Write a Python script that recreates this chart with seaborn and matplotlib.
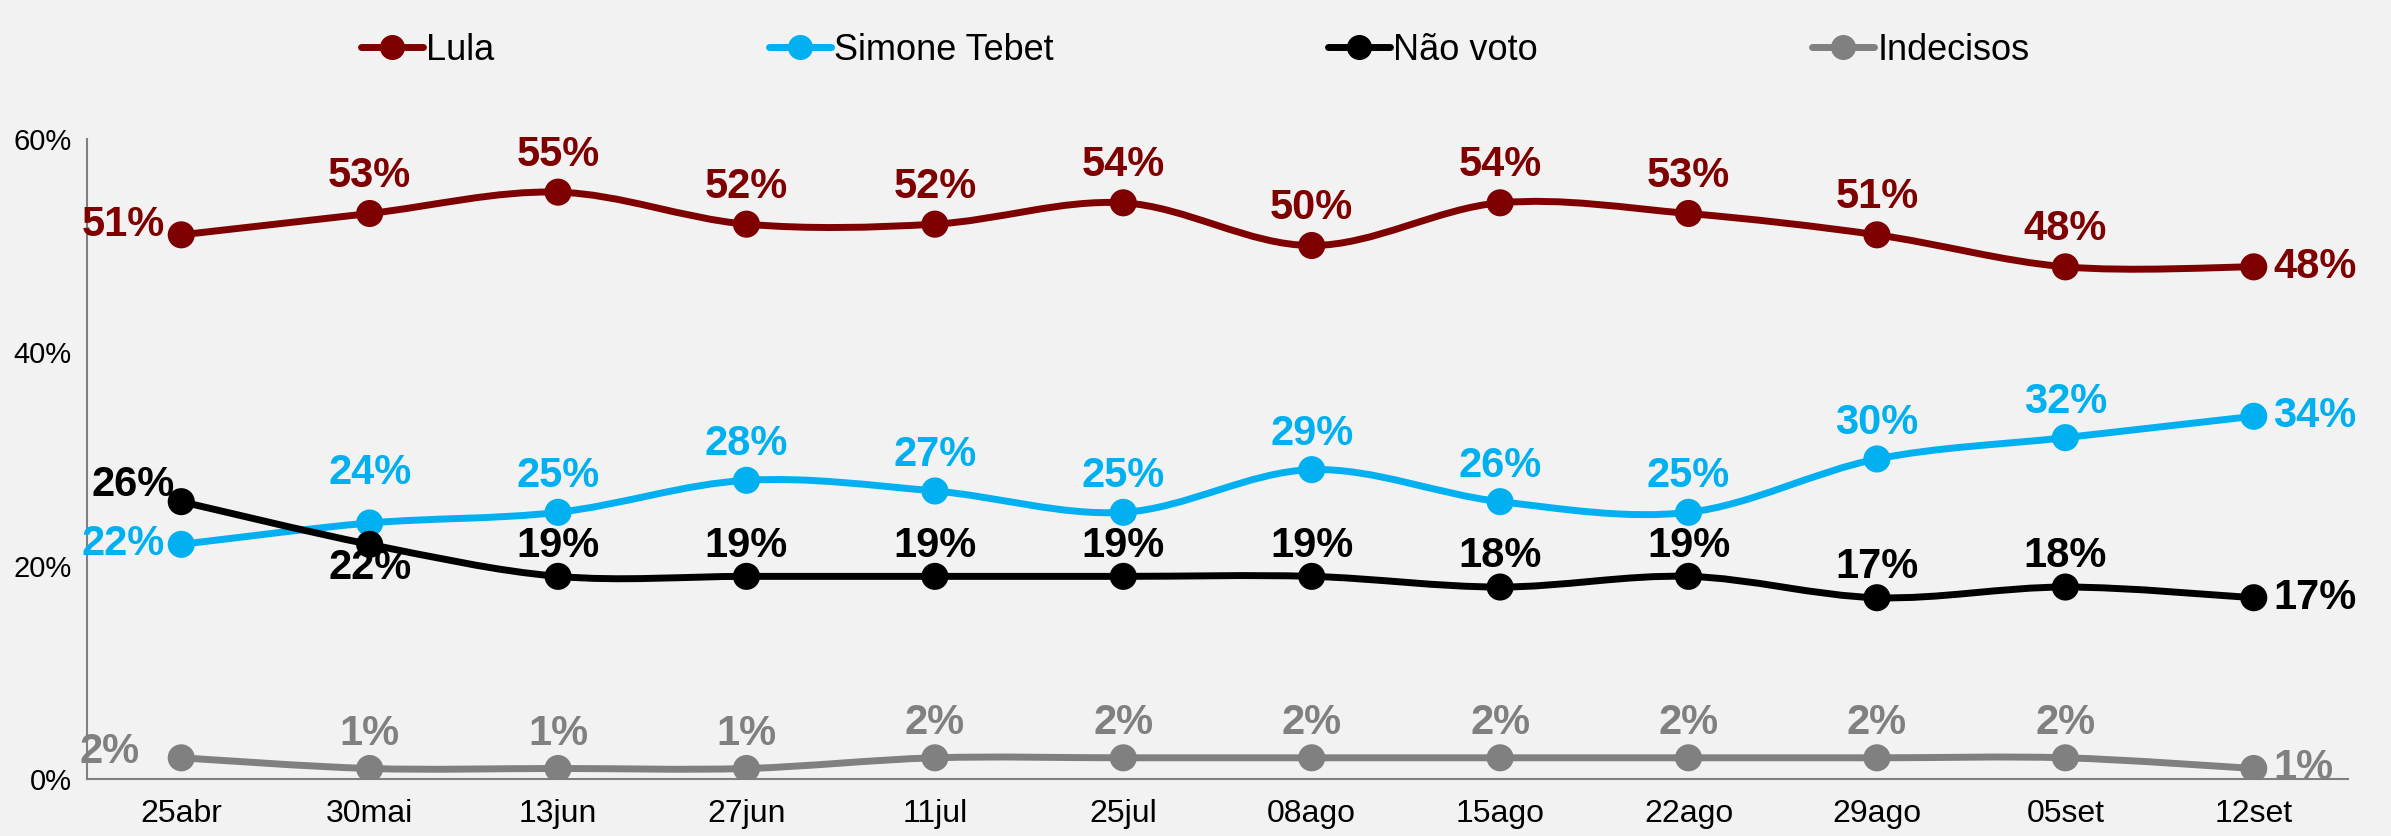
import matplotlib
matplotlib.use("Agg")
import numpy as np
import pandas as pd
import matplotlib.pyplot as plt
import seaborn as sns
from matplotlib.path import Path
from matplotlib.patches import PathPatch
from matplotlib.lines import Line2D
import matplotlib.font_manager as fm

# dados da pesquisa
datas = ["25abr", "30mai", "13jun", "27jun", "11jul", "25jul",
         "08ago", "15ago", "22ago", "29ago", "05set", "12set"]
lula = [51, 53, 55, 52, 52, 54, 50, 54, 53, 51, 48, 48]
simone = [22, 24, 25, 28, 27, 25, 29, 26, 25, 30, 32, 34]
nao_voto = [26, 22, 19, 19, 19, 19, 19, 18, 19, 17, 18, 17]
indecisos = [2, 1, 1, 1, 2, 2, 2, 2, 2, 2, 2, 1]

series = ["Lula", "Simone Tebet", "Não voto", "Indecisos"]
cores = {"Lula": "#7F0000", "Simone Tebet": "#00B0F0",
         "Não voto": "#000000", "Indecisos": "#808080"}

BG = "#F2F2F2"

sns.set_theme(style="white")
nomes = {f.name for f in fm.fontManager.ttflist}
fonte = "Liberation Sans Narrow" if "Liberation Sans Narrow" in nomes else "Liberation Sans"
plt.rcParams["font.family"] = [fonte, "DejaVu Sans"]

df = pd.DataFrame({"data": datas * 4,
                   "serie": np.repeat(series, len(datas)),
                   "valor": np.array(lula + simone + nao_voto + indecisos) / 100})
df["pos"] = np.tile(np.arange(len(datas)), 4)

fig = plt.figure(figsize=(23.91, 8.36), dpi=100, facecolor=BG)
ax = fig.add_axes([0.0364, 0.068, 0.9456, 0.766])
ax.set_facecolor(BG)


def curva_suave(xs, ys):
    # bezier estilo Excel (linha suavizada)
    pts = np.column_stack([xs, ys])
    verts = [pts[0]]
    codes = [Path.MOVETO]
    n = len(pts)
    for i in range(n - 1):
        p0 = pts[i - 1] if i > 0 else pts[i]
        p1, p2 = pts[i], pts[i + 1]
        p3 = pts[i + 2] if i + 2 < n else pts[i + 1]
        c1 = p1 + (p2 - p0) / 6
        c2 = p2 - (p3 - p1) / 6
        verts += [c1, c2, p2]
        codes += [Path.CURVE4] * 3
    return Path(verts, codes)


for s in series:
    d = df[df["serie"] == s]
    ax.add_patch(PathPatch(curva_suave(d["pos"].values, d["valor"].values),
                           facecolor="none", edgecolor=cores[s], lw=5,
                           capstyle="round", joinstyle="round", zorder=2))

sns.scatterplot(data=df, x="pos", y="valor", hue="serie", palette=cores,
                s=380, edgecolor="none", legend=False, ax=ax, zorder=3)

# rótulos de dados
offs = {"Lula": 27, "Simone Tebet": 26, "Não voto": 22, "Indecisos": 25}
for s in series:
    d = df[df["serie"] == s].reset_index(drop=True)
    for i, r in d.iterrows():
        txt = f"{round(r['valor'] * 100)}%"
        if i == 0:
            dy = {"Lula": 7, "Simone Tebet": 0, "Não voto": 10, "Indecisos": 4}[s]
            dx = -30 if s == "Indecisos" else -12
            xy, ha = (dx, dy), "right"
            if s == "Não voto":
                xy, ha = (-5, 12), "right"
        elif i == len(d) - 1:
            xy, ha = (14, 0), "left"
        elif s == "Não voto" and i == 1:
            xy, ha = (0, -17), "center"
        elif s == "Simone Tebet" and i == 1:
            xy, ha = (0, 36), "center"
        else:
            xy, ha = (0, offs[s]), "center"
        ax.annotate(txt, (r["pos"], r["valor"]), xytext=xy, textcoords="offset points",
                    ha=ha, va="center", fontsize=30, fontweight="bold",
                    color=cores[s], zorder=4, annotation_clip=False)

# eixos
ax.set_xlim(-0.5, len(datas) - 0.5)
ax.set_ylim(0, 0.6)
ax.set_yticks([0, 0.2, 0.4, 0.6])
ax.set_yticklabels(["0%", "20%", "40%", "60%"], fontsize=21, color="black")
ax.set_xticks(range(len(datas)))
ax.set_xticklabels(datas, fontsize=23, color="black")
ax.set_xticks(np.arange(-0.5, len(datas)), minor=True)
ax.tick_params(axis="x", which="major", length=0, pad=14)
ax.tick_params(axis="x", which="minor", length=8, color="#808080", width=1.5, direction="out")
ax.tick_params(axis="y", length=7, color="#808080", width=1.5, direction="out", pad=4)
ax.set_xlabel("")
ax.set_ylabel("")
sns.despine(ax=ax)
for lado in ["left", "bottom"]:
    ax.spines[lado].set_color("#808080")
    ax.spines[lado].set_linewidth(1.5)

handles = [Line2D([0], [0], color=cores[s], lw=5, marker="o", markersize=17,
                  solid_capstyle="round") for s in series]
leg = fig.legend(handles, series, loc="upper center", bbox_to_anchor=(0.5, 1.0), ncol=4,
                 frameon=False, fontsize=26, handlelength=1.7, handletextpad=0.1,
                 columnspacing=7.6)
for t in leg.get_texts():
    t.set_color("black")

fig.savefig("out.png", dpi=100, facecolor=BG)
